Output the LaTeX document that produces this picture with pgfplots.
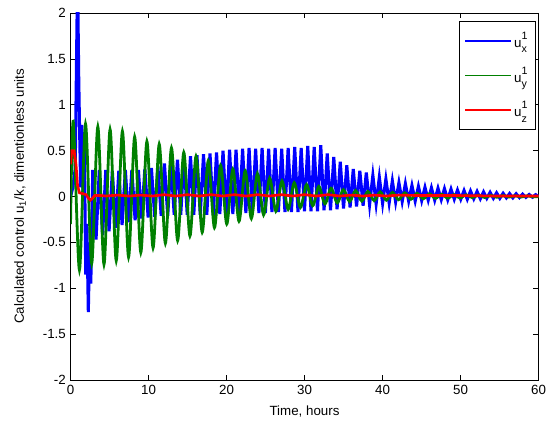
\documentclass[border=0pt]{standalone}
\usepackage{fontspec}
\setmainfont{Liberation Sans}
\usepackage{pgfplots}
\pgfplotsset{compat=1.18}
\definecolor{plotblue}{rgb}{0,0,1}
\definecolor{plotgreen}{rgb}{0,0.5,0}
\definecolor{plotred}{rgb}{1,0,0}
\newcommand{\uu}[1]{u\rlap{\raisebox{1.15ex}{\footnotesize 1}}\raisebox{-0.75ex}{\footnotesize #1}}
\begin{document}
\begin{tikzpicture}
\begin{axis}[
  scale only axis, width=351pt, height=275.25pt,
  xmin=0, xmax=60, ymin=-2, ymax=2,
  xtick={0,10,20,30,40,50,60},
  ytick={-2,-1.5,-1,-0.5,0,0.5,1,1.5,2},
  /pgf/number format/assume math mode=true,
  tick style={black, line width=0.4pt}, major tick length=4pt,
  axis line style={line width=0.5pt},
  xlabel={Time, hours},
  ylabel={Calculated control u$_{\mbox{\scriptsize 1}}$/k, dimentionless units},
  ylabel style={at={(axis description cs:-0.108,0.5)}, anchor=center},
  xlabel style={at={(axis description cs:0.5,-0.085)}, anchor=center},
  legend style={at={(0.993,0.978)}, anchor=north east, draw=black, fill=white,
    row sep=9pt, inner xsep=4pt, inner ysep=6pt, font=\normalsize},
  legend cell align=left,
]
\addplot[draw=plotblue, line width=2.3pt,
  legend image code/.code={\draw[draw=plotblue, line width=1.4pt] (0pt,0pt) -- (34pt,0pt);}] coordinates {
(0,0) (0.3,0.1) (0.6,0.3) (0.9,2.4) (1.05,1.3) (1.15,0.78) (1.3,0.1) (1.45,0.78)
(1.6,0.0) (1.75,0.7) (1.95,-0.85) (2.1,-0.3) (2.28,-1.26) (2.45,-0.5) (2.6,-0.95)
(2.85,0.29) (3.27,-0.47) (3.69,0.29) (4.11,-0.42) (4.52,0.29) (4.94,-0.38)
(5.36,0.28) (5.78,-0.34) (6.19,0.28) (6.61,-0.31) (7.03,0.29) (7.45,-0.28)
(7.86,0.29) (8.28,-0.26) (8.70,0.29) (9.12,-0.24) (9.53,0.30) (9.95,-0.23)
(10.37,0.31) (10.79,-0.22) (11.20,0.33) (11.62,-0.21) (12.04,0.36) (12.46,-0.21)
(12.87,0.38) (13.29,-0.20) (13.71,0.40) (14.13,-0.20) (14.54,0.42) (14.96,-0.20)
(15.38,0.44) (15.80,-0.20) (16.21,0.45) (16.63,-0.20) (17.05,0.46) (17.47,-0.20)
(17.88,0.47) (18.30,-0.20) (18.72,0.48) (19.14,-0.19) (19.55,0.50) (19.97,-0.19)
(20.39,0.51) (20.81,-0.19) (21.22,0.51) (21.64,-0.19) (22.06,0.52) (22.48,-0.18)
(22.89,0.53) (23.31,-0.18) (23.73,0.52) (24.15,-0.18) (24.56,0.53) (24.98,-0.18)
(25.40,0.52) (25.82,-0.17) (26.23,0.53) (26.65,-0.17) (27.07,0.52) (27.49,-0.17)
(27.90,0.53) (28.32,-0.17) (28.74,0.54) (29.16,-0.17) (29.57,0.53) (29.99,-0.16)
(30.41,0.55) (30.83,-0.16) (31.24,0.54) (31.66,-0.16) (32.08,0.56) (32.50,-0.15)
(32.91,0.47) (33.33,-0.15) (33.75,0.43) (34.17,-0.14) (34.58,0.38) (35.00,-0.13)
(35.42,0.34) (35.84,-0.12) (36.25,0.30) (36.67,-0.11) (37.09,0.28) (37.51,-0.10)
(37.92,0.26) (38.34,-0.09) (38.76,0.23) (39.18,-0.08) (39.59,0.21) (40.01,-0.075)
(40.43,0.19) (40.85,-0.07) (41.26,0.17) (41.68,-0.06) (42.10,0.15) (42.52,-0.055)
(42.93,0.14) (43.35,-0.05) (43.77,0.12) (44.19,-0.05) (44.60,0.11) (45.02,-0.045)
(45.44,0.10) (45.86,-0.04) (46.27,0.095) (46.69,-0.04) (47.11,0.09) (47.53,-0.035)
(47.94,0.085) (48.36,-0.035) (48.78,0.08) (49.20,-0.03) (49.61,0.07) (50.03,-0.03)
(50.45,0.065) (50.87,-0.03) (51.28,0.06) (51.70,-0.025) (52.12,0.055) (52.54,-0.025)
(52.95,0.05) (53.37,-0.02) (53.79,0.045) (54.21,-0.02) (54.62,0.04) (55.04,-0.02)
(55.46,0.035) (55.88,-0.015) (56.29,0.032) (56.71,-0.015) (57.13,0.03) (57.55,-0.012)
(57.96,0.026) (58.38,-0.01) (58.80,0.022) (59.22,-0.008) (59.63,0.02) (60.00,0.0)
};
\addlegendentry{\uu{x}}
\addplot[draw=plotgreen, line width=2.1pt, smooth,
  legend image code/.code={\draw[draw=plotgreen, line width=1.4pt] (0pt,0pt) -- (34pt,0pt);}] coordinates {
(0,-0.3) (0.35,0.82) (1.14,-0.80) (1.92,0.79) (2.71,-0.73) (3.50,0.76) (4.29,-0.74)
(5.07,0.73) (5.86,-0.70) (6.65,0.71) (7.44,-0.66) (8.22,0.65) (9.01,-0.61)
(9.79,0.60) (10.58,-0.56) (11.37,0.57) (12.16,-0.51) (12.94,0.53) (13.73,-0.48)
(14.52,0.48) (15.31,-0.43) (16.09,0.44) (16.88,-0.39) (17.66,0.39) (18.45,-0.34)
(19.24,0.34) (20.03,-0.30) (20.81,0.30) (21.60,-0.27) (22.39,0.28) (23.18,-0.24)
(23.96,0.25) (24.75,-0.20) (25.53,0.20) (26.32,-0.16) (27.11,0.17) (27.90,-0.14)
(28.68,0.15) (29.47,-0.12) (30.26,0.13) (31.05,-0.10) (31.83,0.11) (32.62,-0.08)
(33.40,0.09) (34.19,-0.07) (34.98,0.075) (35.77,-0.055) (36.55,0.065) (37.34,-0.05)
(38.13,0.055) (38.92,-0.045) (39.70,0.05) (40.49,-0.04) (41.27,0.045) (42.06,-0.035)
(42.85,0.04) (43.64,-0.03) (44.42,0.035) (45.21,-0.025) (46.00,0.03) (46.79,-0.02)
(47.57,0.025) (48.36,-0.018) (49.14,0.02) (49.93,-0.015) (50.72,0.018) (51.51,-0.012)
(52.29,0.015) (53.08,-0.01) (53.87,0.012) (54.66,-0.008) (55.44,0.01) (56.23,-0.006)
(57.01,0.008) (57.80,-0.005) (58.59,0.007) (59.38,-0.004) (60,0)
};
\addlegendentry{\uu{y}}
\addplot[draw=plotred, line width=2pt,
  legend image code/.code={\draw[draw=plotred, line width=1.4pt] (0pt,0pt) -- (34pt,0pt);}] coordinates {
(0,0.35) (0.15,0.5) (0.45,0.5) (0.7,0.35) (0.9,0.12) (1.15,0.04) (1.6,0.03)
(2.0,0.02) (2.3,-0.02) (2.55,-0.04) (2.8,-0.02) (3.1,0.01) (4,0.01)
(4.5,0.005) (6,0.015) (7.5,0.005) (9,0.015) (10.5,0.005) (12,0.02) (13.5,0.005)
(15,0.02) (16.5,0.005) (18,0.02) (19.5,0.005) (21,0.02) (22.5,0.005) (24,0.02)
(25.5,0.005) (27,0.02) (28.5,0.005) (30,0.02) (31.5,0.005) (33,0.02) (34.5,0.005)
(36,0.015) (37.5,0.005) (39,0.015) (40.5,0.005) (42,0.015) (45,0.01) (50,0.01)
(55,0.005) (60,0.005)
};
\addlegendentry{\uu{z}}
\end{axis}
\pgfresetboundingbox
\path[use as bounding box] ([shift={(-52.9pt,-32.25pt)}]current axis.south west) rectangle ([shift={(5.6pt,9.75pt)}]current axis.north east);
\end{tikzpicture}
\end{document}
